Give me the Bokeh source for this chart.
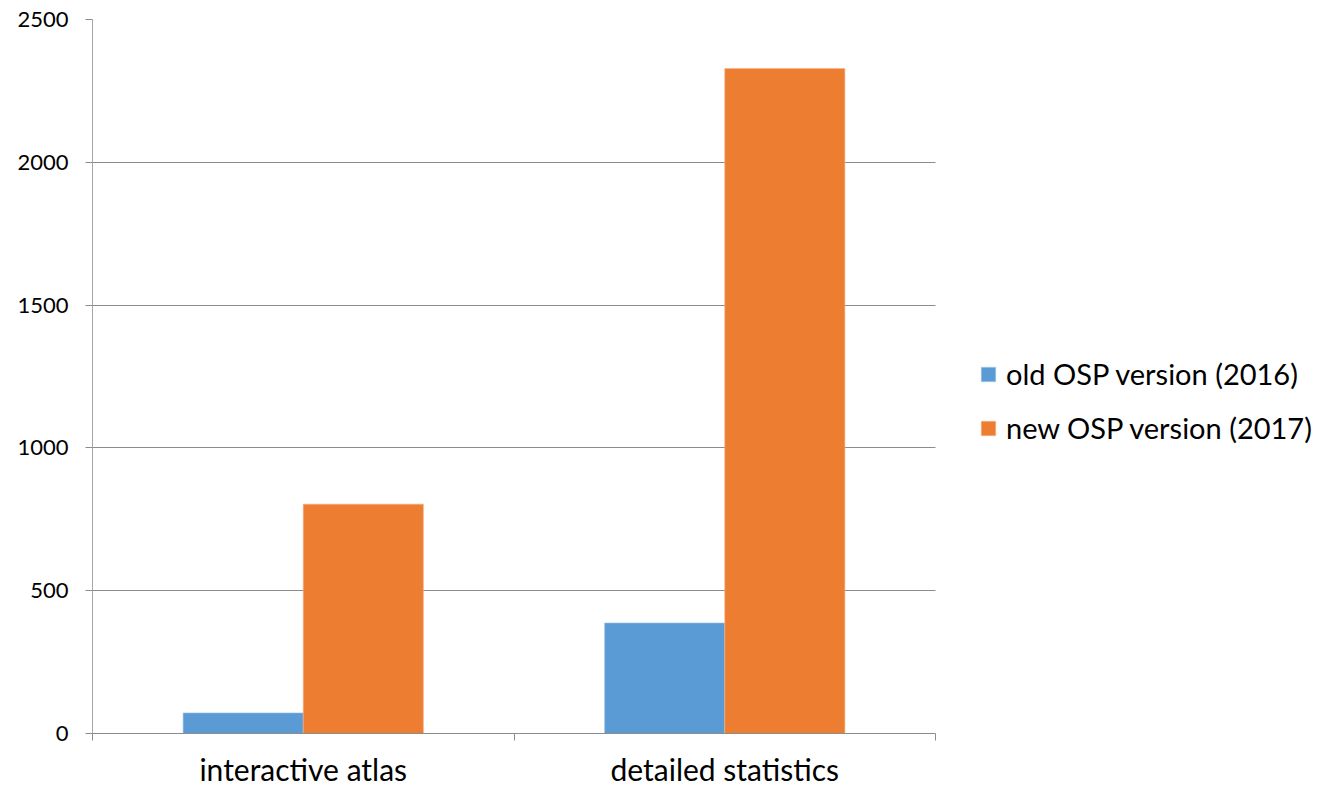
import numpy as np
from bokeh.plotting import figure
from bokeh.models import (ColumnDataSource, FixedTicker, Range1d, Legend, LegendItem)
from bokeh.embed import file_html
from bokeh.resources import INLINE

categories = ["interactive atlas", "detailed statistics"]
old_2016 = [72, 387]
new_2017 = [803, 2328]
series_names = ["old OSP version (2016)", "new OSP version (2017)"]
colors = ["#5B9BD5", "#ED7D31"]
y_ticks = [0, 500, 1000, 1500, 2000, 2500]

FONT = "Lato"
bar_w = 0.285
centers = np.arange(len(categories)) + 0.5

W, H = 1321, 789
LEFT, TOP, BOTTOM = 92, 19, 55
CAT_PX = 843  # pixel width of the category area
frame_w = W - LEFT - 1
x_end = len(categories) * frame_w / CAT_PX

p = figure(width=W, height=H, output_backend="svg", toolbar_location=None,
           x_range=Range1d(0, x_end), y_range=Range1d(0, 2500),
           min_border_left=LEFT, min_border_right=1, min_border_top=TOP,
           min_border_bottom=BOTTOM)
p.outline_line_color = None
p.background_fill_color = "white"
p.border_fill_color = "white"

src_old = ColumnDataSource(dict(x=centers - bar_w / 2, top=old_2016))
src_new = ColumnDataSource(dict(x=centers + bar_w / 2, top=new_2017))
r_old = p.vbar(x="x", top="top", width=bar_w, bottom=0, source=src_old,
               fill_color=colors[0], line_color="#9cc3e6", line_width=1, line_alpha=0.6)
r_new = p.vbar(x="x", top="top", width=bar_w, bottom=0, source=src_new,
               fill_color=colors[1], line_color="#f4b183", line_width=1, line_alpha=0.6)

# x axis
xa = p.xaxis[0]
xa.bounds = (0, len(categories))
xa.ticker = FixedTicker(ticks=list(centers), minor_ticks=list(range(len(categories) + 1)))
xa.major_label_overrides = {float(c): n for c, n in zip(centers, categories)}
xa.major_tick_line_color = None
xa.minor_tick_in = 0
xa.minor_tick_out = 7
xa.minor_tick_line_color = "#8c8c8c"
xa.axis_line_color = "#8c8c8c"
xa.major_label_text_font = FONT
xa.major_label_text_font_size = "30px"
xa.major_label_text_color = "#000000"
xa.major_label_standoff = 10
p.xgrid.grid_line_color = None

# y axis
ya = p.yaxis[0]
ya.ticker = FixedTicker(ticks=y_ticks)
ya.major_tick_in = 0
ya.major_tick_out = 7
ya.major_tick_line_color = "#8c8c8c"
ya.minor_tick_line_color = None
ya.axis_line_color = "#a6a6a6"
ya.major_label_text_font = FONT
ya.major_label_text_font_size = "22px"
ya.major_label_text_color = "#000000"
ya.major_label_standoff = 17
p.ygrid.grid_line_color = "#8c8c8c"
p.ygrid.grid_line_width = 1
p.ygrid.cross_bounds = (0, len(categories))

legend = Legend(items=[LegendItem(label=series_names[0], renderers=[r_old]),
                       LegendItem(label=series_names[1], renderers=[r_new])],
                location=(CAT_PX + 44, 288), orientation="vertical")
legend.border_line_color = None
legend.background_fill_alpha = 0
legend.padding = 0
legend.margin = 0
legend.glyph_width = 18
legend.glyph_height = 18
legend.label_standoff = 9
legend.label_height = 26
legend.spacing = 19
legend.label_text_font = FONT
legend.label_text_font_size = "29px"
legend.label_text_color = "#000000"
p.add_layout(legend, "center")

open("out.html", "w").write(file_html(p, INLINE))
